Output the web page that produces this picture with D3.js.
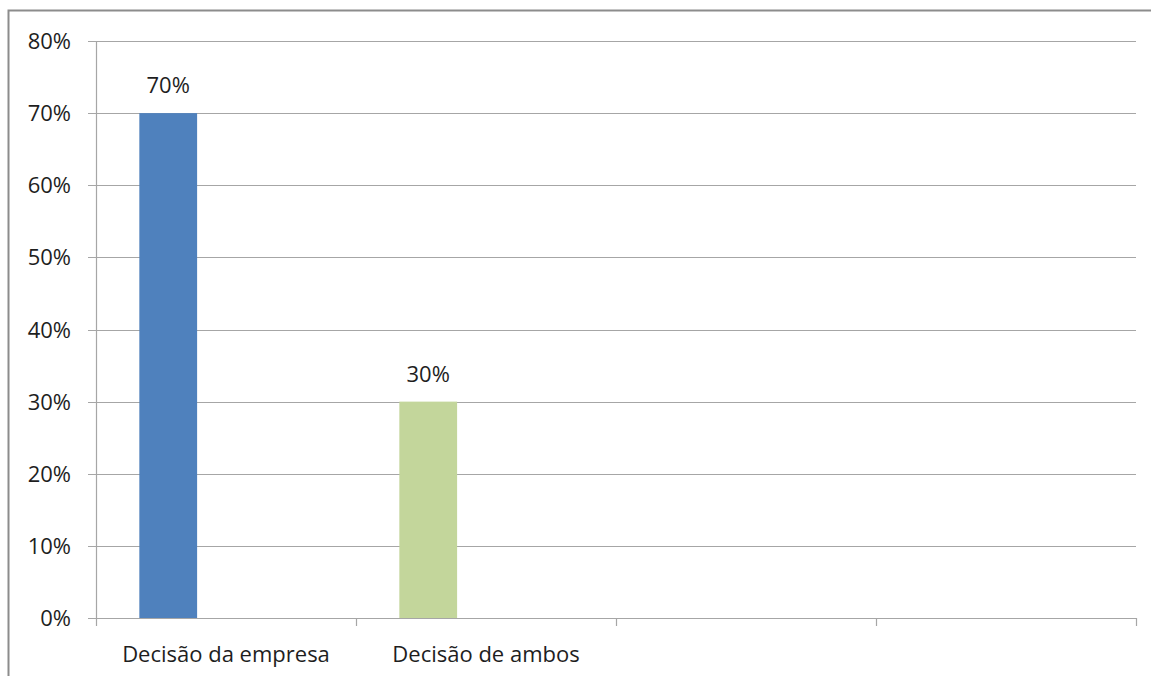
<!DOCTYPE html>
<html>
<head>
<meta charset="utf-8">
<script src="https://d3js.org/d3.v7.min.js"></script>
<style>
  html, body { margin: 0; padding: 0; background: #fff; }
  svg { display: block; }
</style>
</head>
<body>
<svg id="chart" width="1151" height="676"></svg>
<script>
// Category axis has four slots; only the first two carry bars.
const categories = ["Decisão da empresa", "Decisão de ambos", "", ""];
const values = [0.70, 0.30, null, null];
const barColors = ["#4f81bd", "#c3d69b", "#4f81bd", "#4f81bd"];
const yTicks = [0, 0.1, 0.2, 0.3, 0.4, 0.5, 0.6, 0.7, 0.8];

const svg = d3.select("#chart");
const W = 1151, H = 676;
const font = "'Open Sans', 'Noto Sans', sans-serif";
const fontSize = 22;

// Outer frame (right and bottom run off the page)
svg.append("rect")
  .attr("x", 8.5).attr("y", 10.5)
  .attr("width", W + 20).attr("height", H + 20)
  .attr("fill", "#fff")
  .attr("stroke", "#8c8c8c").attr("stroke-width", 2);

const plotLeft = 96, plotRight = 1136, plotTop = 41, plotBottom = 618;

const x = d3.scaleBand().domain(d3.range(categories.length)).range([plotLeft, plotRight]).padding(0);
// Three slots per category with a 150% gap, the bar sits in the first slot
const inner = d3.scaleBand().domain([0, 1, 2]).range([0, x.bandwidth()])
  .paddingInner(0).paddingOuter(0.75);
const y = d3.scaleLinear().domain([0, 0.8]).range([plotBottom, plotTop]);

// Gridlines with short ticks to the left
svg.append("g")
  .selectAll("line")
  .data(yTicks)
  .join("line")
  .attr("x1", plotLeft - 8).attr("x2", plotRight)
  .attr("y1", d => Math.round(y(d)) + 0.5).attr("y2", d => Math.round(y(d)) + 0.5)
  .attr("stroke", "#a6a6a6")
  .attr("stroke-width", 1.2);

// Vertical value axis line
svg.append("line")
  .attr("x1", plotLeft + 0.5).attr("x2", plotLeft + 0.5)
  .attr("y1", y(0.8)).attr("y2", plotBottom)
  .attr("stroke", "#a6a6a6").attr("stroke-width", 1.2);

// Category tick marks at band boundaries
const bounds = d3.range(categories.length + 1).map(i => i === categories.length ? plotRight : x(i));
svg.append("g")
  .selectAll("line")
  .data(bounds)
  .join("line")
  .attr("x1", d => Math.round(d) + 0.5).attr("x2", d => Math.round(d) + 0.5)
  .attr("y1", plotBottom).attr("y2", plotBottom + 8)
  .attr("stroke", "#a6a6a6").attr("stroke-width", 1.2);

// Y tick labels
svg.append("g")
  .selectAll("text")
  .data(yTicks)
  .join("text")
  .attr("x", 71).attr("y", d => y(d) + 8)
  .attr("text-anchor", "end")
  .attr("font-family", font).attr("font-size", fontSize)
  .attr("fill", "#1e1e1e")
  .text(d => d3.format(".0%")(d));

// Bars
const barData = values.map((v, i) => ({ i, v })).filter(d => d.v != null);
svg.append("g")
  .selectAll("rect")
  .data(barData)
  .join("rect")
  .attr("x", d => x(d.i) + inner(0))
  .attr("y", d => y(d.v))
  .attr("width", inner.bandwidth())
  .attr("height", d => y(0) - y(d.v))
  .attr("fill", d => barColors[d.i]);

// Value labels above bars
svg.append("g")
  .selectAll("text")
  .data(barData)
  .join("text")
  .attr("x", d => x(d.i) + inner(0) + inner.bandwidth() / 2)
  .attr("y", d => y(d.v) - 20)
  .attr("text-anchor", "middle")
  .attr("font-family", font).attr("font-size", fontSize)
  .attr("fill", "#1e1e1e")
  .text(d => d3.format(".0%")(d.v));

// Category labels
svg.append("g")
  .selectAll("text")
  .data(categories)
  .join("text")
  .attr("x", (d, i) => x(i) + x.bandwidth() / 2)
  .attr("y", 662)
  .attr("text-anchor", "middle")
  .attr("font-family", font).attr("font-size", fontSize)
  .attr("fill", "#1e1e1e")
  .text(d => d);
</script>
</body>
</html>
